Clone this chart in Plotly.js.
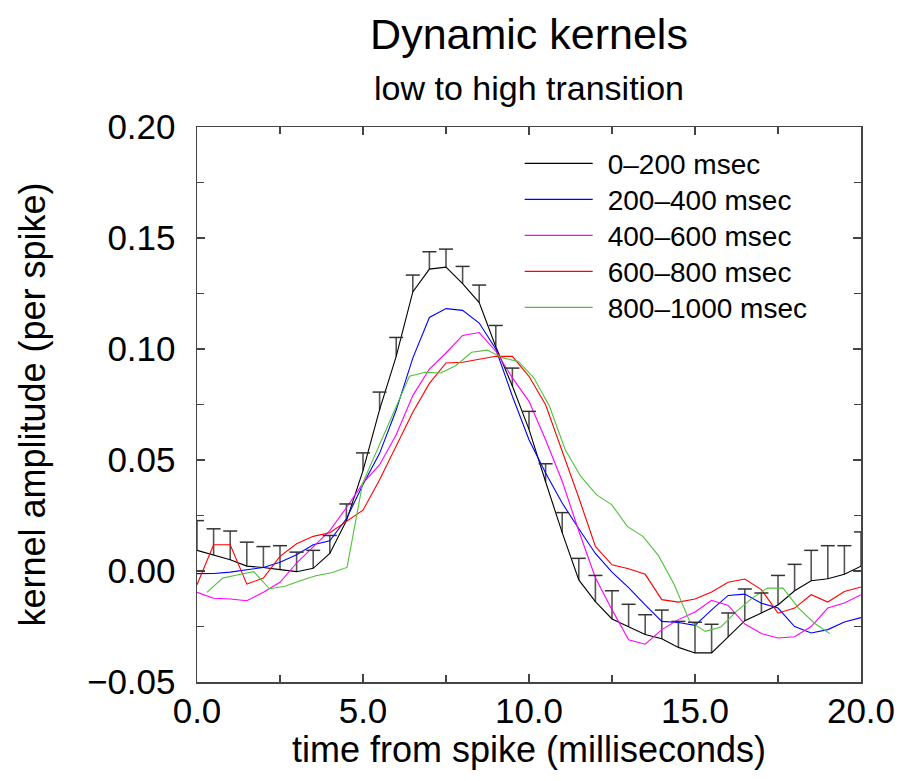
<!DOCTYPE html>
<html>
<head>
<meta charset="utf-8">
<script src="https://cdn.plot.ly/plotly-3.0.1.min.js"></script>
<style>
  html, body { margin: 0; padding: 0; background: #fff; }
  #chart { width: 908px; height: 781px; }
</style>
</head>
<body>
<div id="chart"></div>
<script>
// ---- data ----
const time = [0,0.5,1,1.5,2,2.5,3,3.5,4,4.5,5,5.5,6,6.5,7,7.5,8,8.5,9,9.5,10,
              10.5,11,11.5,12,12.5,13,13.5,14,14.5,15,15.5,16,16.5,17,17.5,18,18.5,19,19.5,20];

const seriesNames = ["0\u2013200 msec","200\u2013400 msec","400\u2013600 msec","600\u2013800 msec","800\u20131000 msec"];

const kernel0_200 = [0.0093,0.0072,0.0051,0.0022,0.0016,0.0006,-0.0003,0.0012,0.0079,0.0226,0.0452,
  0.0727,0.0967,0.1257,0.1360,0.1369,0.1294,0.1209,0.1010,0.0833,0.0638,
  0.0402,0.0173,-0.0040,-0.0138,-0.0216,-0.0250,-0.0286,-0.0305,-0.0344,-0.0369,
  -0.0369,-0.0297,-0.0224,-0.0189,-0.0153,-0.0089,-0.0044,-0.0035,-0.0015,0.0022];

const err0_200 = [0.0134,0.0118,0.0129,0.0108,0.0094,0.0108,0.0088,0.0081,0.0081,0.0076,0.0080,
  0.0079,0.0085,0.0076,0.0078,0.0081,0.0078,0.0079,0.0096,0.0081,0.0081,
  0.0081,0.0090,0.0097,0.0118,0.0127,0.0100,0.0089,0.0129,0.0117,0.0138,
  0.0129,0.0108,0.0143,0.0090,0.0133,0.0119,0.0137,0.0149,0.0129,0.0154];

const kernel200_400 = [-0.0012,-0.0011,-0.0005,0.0005,0.0016,0.0039,0.0073,0.0118,0.0136,0.0235,0.0390,
  0.0530,0.0725,0.0959,0.1142,0.1182,0.1174,0.1117,0.1000,0.0787,0.0591,
  0.0441,0.0306,0.0190,0.0079,-0.0005,-0.0075,-0.0153,-0.0227,-0.0232,-0.0245,
  -0.0175,-0.0110,-0.0104,-0.0145,-0.0167,-0.0250,-0.0279,-0.0264,-0.0230,-0.0210];

const kernel400_600 = [-0.0096,-0.0123,-0.0126,-0.0134,-0.0096,-0.0051,0.0036,0.0111,0.0182,0.0285,0.0396,
  0.0479,0.0614,0.0790,0.0910,0.0982,0.1061,0.1074,0.0990,0.0870,0.0764,
  0.0591,0.0404,0.0180,-0.0030,-0.0174,-0.0310,-0.0330,-0.0264,-0.0219,-0.0185,
  -0.0132,-0.0155,-0.0239,-0.0282,-0.0302,-0.0296,-0.0250,-0.0167,-0.0144,-0.0107];

const kernel600_800 = [-0.0062,0.0118,0.0118,-0.0059,-0.0032,0.0066,0.0123,0.0156,0.0172,0.0223,0.0274,
  0.0411,0.0561,0.0715,0.0845,0.0937,0.0940,0.0955,0.0967,0.0967,0.0877,
  0.0749,0.0540,0.0330,0.0111,0.0028,0.0010,-0.0015,-0.0129,-0.0140,-0.0126,
  -0.0095,-0.0051,-0.0036,-0.0084,-0.0190,-0.0167,-0.0107,-0.0140,-0.0092,-0.0072];

// the 800-1000 msec kernel is sampled on its own time grid
const time800_1000 = [0.30,0.77,1.24,1.71,2.18,2.65,3.11,3.58,4.05,4.52,4.99,
  5.46,5.93,6.40,6.87,7.34,7.80,8.27,8.74,9.21,9.68,
  10.15,10.62,11.09,11.56,12.03,12.49,12.96,13.43,13.90,14.37,
  14.84,15.31,15.78,16.25,16.72,17.18,17.65,18.12,18.59,19.06];

const kernel800_1000 = [-0.0096,-0.0032,-0.0017,-0.0003,-0.0080,-0.0069,-0.0044,-0.0021,-0.0008,0.0016,0.0396,
  0.0555,0.0716,0.0877,0.0895,0.0892,0.0926,0.0985,0.0995,0.0960,0.0944,
  0.0869,0.0741,0.0546,0.0426,0.0344,0.0299,0.0201,0.0156,0.0069,-0.0060,
  -0.0227,-0.0272,-0.0252,-0.0182,-0.0122,-0.0077,-0.0077,-0.0167,-0.0234,-0.0282];

const yTickVals = [-0.05,0.00,0.05,0.10,0.15,0.20];
const xTickVals = [0,5,10,15,20];

// ---- styling ----
const colors = ["#000000","#0000ff","#ff00ff","#ff0000","#4fc23a"];
const FONT = "Liberation Sans, Arial, Helvetica, sans-serif";

const zeros = kernel0_200.map(() => 0);
const capY = kernel0_200.map((v, i) => v + err0_200[i]);

const traces = [
  {
    x: time, y: kernel0_200, name: seriesNames[0], type: "scatter", mode: "lines",
    line: {color: colors[0], width: 1.1},
    error_y: {type: "data", array: err0_200, arrayminus: zeros, symmetric: false,
              visible: true, color: "#555555", thickness: 1.6, width: 0}
  },
  {x: time, y: kernel200_400, name: seriesNames[1], type: "scatter", mode: "lines",
   line: {color: colors[1], width: 1.1}},
  {x: time, y: kernel400_600, name: seriesNames[2], type: "scatter", mode: "lines",
   line: {color: colors[2], width: 1.1}},
  {x: time, y: kernel600_800, name: seriesNames[3], type: "scatter", mode: "lines",
   line: {color: colors[3], width: 1.1}},
  {x: time800_1000, y: kernel800_1000, name: seriesNames[4], type: "scatter", mode: "lines",
   line: {color: colors[4], width: 1.1}},
  {
    x: time, y: capY, type: "scatter", mode: "markers", showlegend: false, hoverinfo: "skip",
    marker: {symbol: "line-ew-open", size: 10, color: "#333333", line: {color: "#333333", width: 1.5}}
  }
];

const axisCommon = {
  showline: true, linecolor: "#444444", linewidth: 1.5, mirror: "ticks",
  ticks: "inside", ticklen: 8, tickwidth: 1.3, tickcolor: "#444444",
  showgrid: false, zeroline: false,
  tickfont: {family: FONT, size: 35, color: "#000"}
};

const layout = {
  width: 908, height: 781,
  paper_bgcolor: "#ffffff", plot_bgcolor: "#ffffff",
  margin: {l: 197, r: 47, t: 127, b: 99, pad: 0},
  showlegend: true,
  title: {
    text: "Dynamic kernels",
    font: {family: FONT, size: 43, color: "#000"},
    x: 0.5, xref: "paper", xanchor: "center",
    y: 1 - 34/781, yref: "container", yanchor: "middle"
  },
  annotations: [{
    text: "low to high transition", showarrow: false,
    xref: "paper", yref: "paper", x: 0.5, y: 1 + (127 - 88)/555,
    xanchor: "center", yanchor: "middle",
    font: {family: FONT, size: 34, color: "#000"}
  }],
  xaxis: Object.assign({}, axisCommon, {
    range: [0, 20], tickvals: xTickVals, tickformat: ".1f",
    ticklabelstandoff: -3,
    minor: {dtick: 2.5, ticks: "inside", ticklen: 7, tickwidth: 1.3, tickcolor: "#444444"},
    title: {text: "time from spike (milliseconds)", font: {family: FONT, size: 36, color: "#000"}, standoff: 4}
  }),
  yaxis: Object.assign({}, axisCommon, {
    range: [-0.05, 0.20], tickvals: yTickVals, tickformat: ".2f",
    ticklabelstandoff: 13,
    minor: {dtick: 0.025, ticks: "inside", ticklen: 7, tickwidth: 1.3, tickcolor: "#444444"},
    title: {text: "\u00a0kernel amplitude (per spike)", font: {family: FONT, size: 36, color: "#000"}, standoff: 30}
  }),
  legend: {
    x: 0.486, y: 0.979, xanchor: "left", yanchor: "top",
    bgcolor: "rgba(0,0,0,0)", borderwidth: 0,
    font: {family: FONT, size: 28, color: "#000"},
    itemwidth: 78, tracegroupgap: 0
  }
};

Plotly.newPlot("chart", traces, layout, {staticPlot: true, displayModeBar: false}).then(() => {
  // longer legend line samples and the tighter row spacing of the original
  document.querySelectorAll("#chart .legendlines path").forEach(p => p.setAttribute("d", "M5,0h68"));
  const items = document.querySelectorAll("#chart .legend .traces");
  let y0 = null;
  items.forEach((g, i) => {
    const m = /translate\(([-\d.]+),\s*([-\d.]+)\)/.exec(g.getAttribute("transform") || "");
    if (!m) return;
    if (y0 === null) y0 = parseFloat(m[2]);
    g.setAttribute("transform", "translate(" + m[1] + "," + (y0 + i * 36) + ")");
  });
});
</script>
</body>
</html>
